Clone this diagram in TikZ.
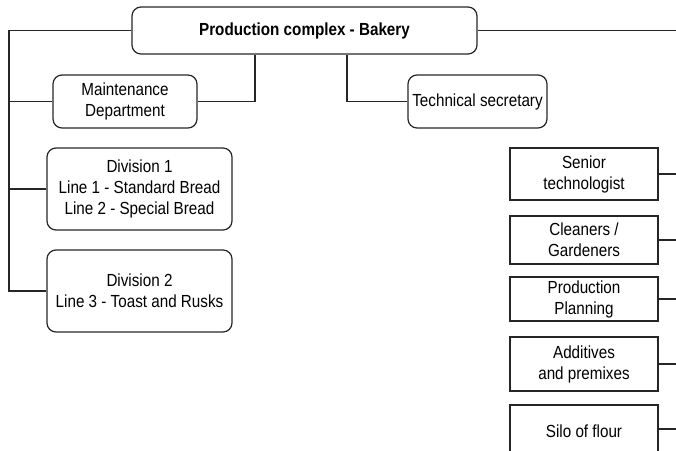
\documentclass[tikz,border=0pt]{standalone}
\usepackage{fontspec}
\setmainfont{Liberation Sans}[FakeStretch=0.87]
\begin{document}
\begin{tikzpicture}[x=1pt,y=-1pt,
  base/.style={draw=black!85,line width=1.2pt,inner sep=0pt,align=center,
    font=\fontsize{17.5}{21}\selectfont,text=black},
  rbox/.style={base,rounded corners=9pt},
  sbox/.style={base,minimum width=148pt},
  conn/.style={draw=black!85,line width=1.1pt}]
\useasboundingbox (0,0) rectangle (676,450);
\clip (0,0) rectangle (676,450);
\coordinate (L) at (9,0);
\coordinate (R) at (680,0);
\node[rbox,minimum width=345pt,minimum height=47pt,font=\fontsize{17.5}{21}\selectfont\bfseries] (top) at (304.5,30.5) {Production complex - Bakery};
\node[rbox,minimum width=144pt,minimum height=53pt] (maint) at (125,101.5) {Maintenance\\Department};
\node[rbox,minimum width=139pt,minimum height=53pt] (tech) at (477.5,101.5) {Technical secretary};
\node[rbox,minimum width=185pt,minimum height=82pt] (div1) at (139.5,189) {Division 1\\Line 1 - Standard Bread\\Line 2 - Special Bread};
\node[rbox,minimum width=185pt,minimum height=82pt] (div2) at (139.5,291) {Division 2\\Line 3 - Toast and Rusks};
\node[sbox,minimum height=52pt] (sen) at (584,174) {Senior\\technologist};
\node[sbox,minimum height=48pt] (cle) at (584,240) {Cleaners /\\Gardeners};
\node[sbox,minimum height=44pt] (pla) at (584,299) {Production\\Planning};
\node[sbox,minimum height=54pt] (add) at (584,364) {Additives\\and premixes};
\node[sbox,minimum height=60pt] (silo) at (584,435) {\raisebox{7pt}{Silo of flour}};
\draw[conn] (top.west) -| (L |- div2.west) -- (div2.west);
\draw[conn] (maint.west) -- (maint.west -| L);
\draw[conn] (div1.west) -- (div1.west -| L);
\draw[conn] (maint.east) -| ([xshift=-49.5pt]top.south);
\draw[conn] (tech.west) -| ([xshift=42.5pt]top.south);
\draw[conn] (top.east) -- (top.east -| R);
\foreach \n in {sen,cle,pla,add} \draw[conn] (\n.east) -- (\n.east -| R);
\draw[conn] ([yshift=6pt]silo.east) -- ([yshift=6pt]silo.east -| R);
\end{tikzpicture}
\end{document}
